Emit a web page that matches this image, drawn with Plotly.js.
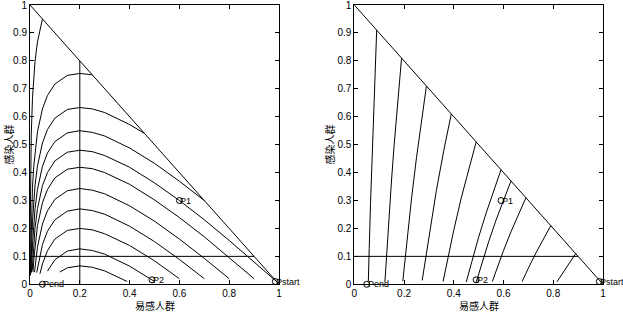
<!DOCTYPE html>
<html>
<head>
<meta charset="utf-8">
<script src="https://cdn.plot.ly/plotly-3.0.1.min.js"></script>
<style>html,body{margin:0;padding:0;background:#fff;}#chart{width:623px;height:313px;}</style>
</head>
<body>
<div id="chart"></div>
<script>
// ---- Data ----
// Left panel: trajectories (susceptible S on x, infected I on y)
const leftCurveX = [
  [0.05,0.03,0.02,0.015,0.01,0.005,0.003,0.002,0.001,0.0005,0.0004],
  [0.25,0.2,0.15,0.1,0.07,0.05,0.03,0.02,0.015,0.01,0.005,0.003,0.002],
  [0.46,0.4,0.3,0.25,0.2,0.15,0.1,0.07,0.05,0.03,0.02,0.015,0.01,0.007,0.005,0.004],
  [0.7,0.6,0.5,0.4,0.3,0.25,0.2,0.15,0.1,0.07,0.05,0.03,0.02,0.015,0.01,0.007,0.006],
  [0.99,0.9,0.8,0.7,0.6,0.5,0.4,0.3,0.25,0.2,0.15,0.1,0.07,0.05,0.03,0.02,0.015,0.01,0.009],
  [0.9,0.8,0.7,0.6,0.5,0.4,0.3,0.25,0.2,0.15,0.1,0.07,0.05,0.03,0.02,0.015,0.012],
  [0.8,0.7,0.6,0.5,0.4,0.3,0.25,0.2,0.15,0.1,0.07,0.05,0.03,0.02,0.018],
  [0.7,0.6,0.5,0.4,0.3,0.25,0.2,0.15,0.1,0.07,0.05,0.03,0.027],
  [0.6,0.5,0.4,0.3,0.25,0.2,0.15,0.1,0.07,0.05,0.04],
  [0.5,0.4,0.3,0.25,0.2,0.15,0.1,0.07],
  [0.39,0.35,0.3,0.25,0.2,0.15,0.12]
];
const leftCurveY = [
  [0.95,0.868,0.797,0.744,0.668,0.534,0.434,0.354,0.217,0.079,0.034],
  [0.75,0.755,0.748,0.717,0.676,0.628,0.546,0.475,0.422,0.346,0.213,0.113,0.032],
  [0.54,0.572,0.615,0.628,0.633,0.626,0.595,0.554,0.506,0.424,0.353,0.300,0.224,0.156,0.091,0.047],
  [0.3,0.369,0.433,0.488,0.531,0.544,0.550,0.542,0.511,0.470,0.422,0.340,0.269,0.217,0.140,0.072,0.042],
  [0.01,0.081,0.157,0.231,0.300,0.363,0.419,0.461,0.475,0.480,0.473,0.442,0.400,0.353,0.271,0.200,0.147,0.071,0.051],
  [0.02,0.096,0.170,0.239,0.302,0.358,0.400,0.414,0.419,0.412,0.381,0.339,0.292,0.210,0.139,0.086,0.044],
  [0.02,0.093,0.162,0.226,0.281,0.324,0.337,0.343,0.335,0.304,0.263,0.216,0.133,0.062,0.043],
  [0.02,0.089,0.153,0.208,0.251,0.264,0.270,0.262,0.231,0.190,0.142,0.060,0.042],
  [0.02,0.084,0.139,0.181,0.195,0.200,0.193,0.162,0.120,0.073,0.038],
  [0.01,0.065,0.108,0.121,0.127,0.119,0.088,0.047],
  [0.01,0.028,0.048,0.061,0.066,0.059,0.044]
];
// Right panel: trajectories
const rightCurveX = [
  [0.09,0.08,0.07,0.065,0.06,0.057,0.0565],
  [0.19,0.18,0.17,0.16,0.15,0.14,0.13,0.125,0.123],
  [0.29,0.27,0.25,0.23,0.21,0.195],
  [0.39,0.36,0.33,0.30,0.28,0.273],
  [0.49,0.46,0.43,0.40,0.37,0.357],
  [0.59,0.56,0.53,0.50,0.47,0.45],
  [0.63,0.60,0.57,0.54,0.51,0.49],
  [0.69,0.66,0.63,0.60,0.57,0.555],
  [0.79,0.76,0.73,0.70,0.68,0.675],
  [0.89,0.87,0.85,0.83,0.815]
];
const rightCurveY = [
  [0.91,0.684,0.427,0.285,0.129,0.029,0.012],
  [0.81,0.712,0.607,0.496,0.377,0.249,0.111,0.037,0.007],
  [0.71,0.587,0.453,0.306,0.145,0.011],
  [0.61,0.480,0.336,0.175,0.057,0.014],
  [0.51,0.414,0.309,0.194,0.068,0.010],
  [0.41,0.336,0.255,0.169,0.075,0.008],
  [0.37,0.302,0.230,0.152,0.067,0.007],
  [0.31,0.251,0.188,0.121,0.048,0.010],
  [0.21,0.163,0.112,0.058,0.020,0.010],
  [0.11,0.084,0.058,0.030,0.009]
];
// Reference lines
const boundaryX = [0, 1];
const boundaryY = [1, 0];
const thresholdSX = [0.2, 0.2];
const thresholdSY = [0, 0.8];
const thresholdIX = [0, 0.9];
const thresholdIY = [0.1, 0.1];
// Marked points
const pointNames = ['Pend', 'P1', 'P2', 'Pstart'];
const leftPointX = [0.05, 0.6, 0.49, 0.985];
const leftPointY = [0, 0.3, 0.016, 0.01];
const rightPointX = [0.05, 0.59, 0.49, 0.985];
const rightPointY = [0, 0.3, 0.016, 0.01];
// Tick labels
const xTickVals = [0, 0.2, 0.4, 0.6, 0.8, 1];
const xTickText = ['0', '0.2', '0.4', '0.6', '0.8', '1'];
const yTickVals = [0, 0.1, 0.2, 0.3, 0.4, 0.5, 0.6, 0.7, 0.8, 0.9, 1];
const yTickText = ['0', '0.1', '0.2', '0.3', '0.4', '0.5', '0.6', '0.7', '0.8', '0.9', '1'];
const xTitle = '易感人群';
const yTitle = '感染人群';

// ---- Build traces ----
const lineStyle = {color: '#000', width: 1};
const traces = [];
function addLine(x, y, xa, ya) {
  traces.push({x: x, y: y, xaxis: xa, yaxis: ya, type: 'scatter', mode: 'lines',
    line: lineStyle, hoverinfo: 'skip', showlegend: false});
}
leftCurveX.forEach((x, i) => addLine(x, leftCurveY[i], 'x', 'y'));
rightCurveX.forEach((x, i) => addLine(x, rightCurveY[i], 'x2', 'y2'));
[['x','y'], ['x2','y2']].forEach(([xa, ya]) => {
  addLine(boundaryX, boundaryY, xa, ya);
  addLine(thresholdIX, thresholdIY, xa, ya);
});
addLine(thresholdSX, thresholdSY, 'x', 'y');
const markerStyle = {symbol: 'circle-open', size: 6, color: '#000', line: {width: 1, color: '#000'}};
traces.push({x: leftPointX, y: leftPointY, xaxis: 'x', yaxis: 'y', type: 'scatter', mode: 'markers',
  marker: markerStyle, cliponaxis: false, showlegend: false, hoverinfo: 'skip'});
traces.push({x: rightPointX, y: rightPointY, xaxis: 'x2', yaxis: 'y2', type: 'scatter', mode: 'markers',
  marker: markerStyle, cliponaxis: false, showlegend: false, hoverinfo: 'skip'});

const annotations = [];
const labelFont = {family: 'Liberation Sans, Arial, sans-serif', size: 9, color: '#000'};
pointNames.forEach((n, i) => {
  annotations.push({x: leftPointX[i], y: leftPointY[i], xref: 'x', yref: 'y', text: n,
    showarrow: false, xanchor: 'left', yanchor: 'middle', xshift: 0, borderpad: 0, font: labelFont});
  annotations.push({x: rightPointX[i], y: rightPointY[i], xref: 'x2', yref: 'y2', text: n,
    showarrow: false, xanchor: 'left', yanchor: 'middle', xshift: 0, borderpad: 0, font: labelFont});
});
const titleFont = {family: 'Noto Sans CJK SC, sans-serif', size: 10, color: '#000'};
const dom1 = [30/623, 279/623];
const dom2 = [354.3/623, 603/623];
const ydom = [(313-284.3)/313, (313-5)/313];
[dom1, dom2].forEach((d, k) => {
  annotations.push({x: (d[0]+d[1])/2, y: (313-305)/313, xref: 'paper', yref: 'paper', text: xTitle,
    showarrow: false, xanchor: 'center', yanchor: 'middle', font: titleFont});
  annotations.push({x: (k === 0 ? 8 : 329)/623, y: (313-144.5)/313, xref: 'paper', yref: 'paper', text: yTitle,
    textangle: -90, showarrow: false, xanchor: 'center', yanchor: 'middle', font: titleFont});
});

const tickFont = {family: 'Liberation Sans, Arial, sans-serif', size: 10, color: '#000'};
function xAxis(dom, anchor) {
  return {domain: dom, anchor: anchor, range: [0, 1], tickmode: 'array', tickvals: xTickVals, ticktext: xTickText,
    ticks: 'inside', ticklen: 4, tickwidth: 1, tickcolor: '#000', showline: true, linecolor: '#000', linewidth: 1,
    mirror: 'ticks', showgrid: false, zeroline: false, fixedrange: true, ticklabeloverflow: 'allow',
    tickfont: tickFont};
}
function yAxis(anchor) {
  return {domain: ydom, anchor: anchor, range: [0, 1], tickmode: 'array', tickvals: yTickVals, ticktext: yTickText,
    ticks: 'inside', ticklen: 4, tickwidth: 1, tickcolor: '#000', showline: true, linecolor: '#000', linewidth: 1,
    mirror: 'ticks', showgrid: false, zeroline: false, fixedrange: true, ticklabeloverflow: 'allow',
    tickfont: tickFont};
}
const layout = {
  width: 623, height: 313, margin: {l: 0, r: 0, t: 0, b: 0},
  paper_bgcolor: '#fff', plot_bgcolor: '#fff', showlegend: false,
  xaxis: xAxis(dom1, 'y'), yaxis: yAxis('x'),
  xaxis2: xAxis(dom2, 'y2'), yaxis2: yAxis('x2'),
  annotations: annotations
};
Plotly.newPlot('chart', traces, layout, {staticPlot: true, displayModeBar: false});
</script>
</body>
</html>
